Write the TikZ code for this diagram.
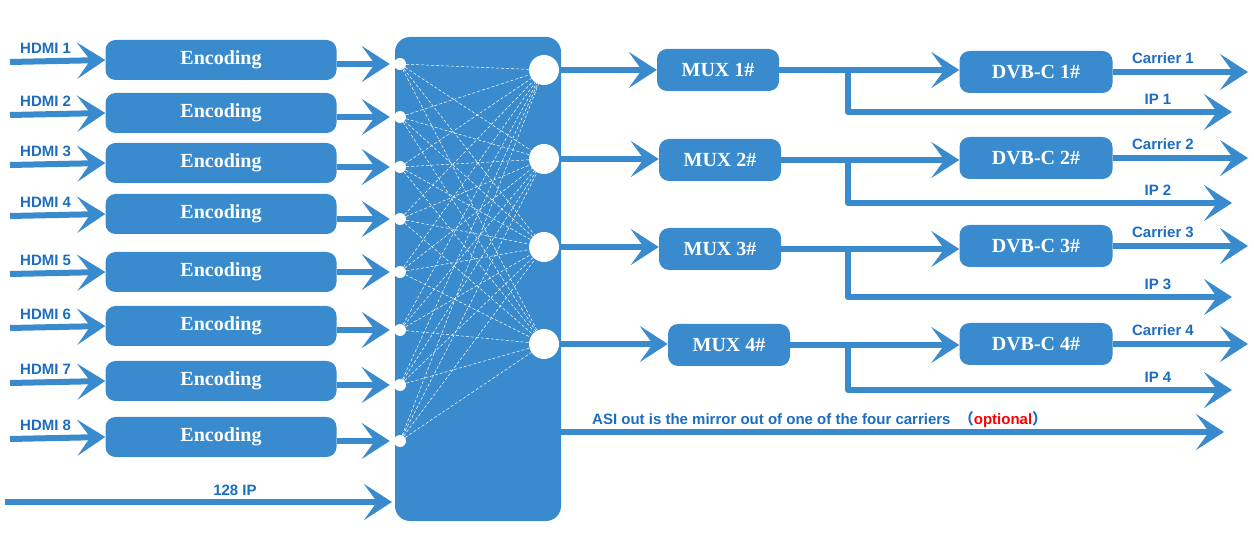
\documentclass[tikz,border=0pt]{standalone}
\usepackage{fontspec}
\setmainfont{Liberation Serif}
\newfontfamily\sansf{Liberation Sans}
\newfontfamily\cjk{Noto Sans CJK SC}
\usetikzlibrary{arrows.meta}
\definecolor{bb}{HTML}{3A8BCD}
\definecolor{tb}{HTML}{1C6DBF}
\begin{document}
\begin{tikzpicture}[x=1pt,y=-1pt,
 box/.style={draw=none,fill=bb,rounded corners=10pt,text=white,font=\bfseries\fontsize{20}{20}\selectfont,minimum height=40pt,inner sep=0pt},
 arr/.style={draw=bb,line width=6pt,-{Stealth[length=28pt,width=36pt,inset=13pt]}},
 ln/.style={draw=bb,line width=6pt},
 lab/.style={text=tb,font=\sansf\bfseries\fontsize{15}{15}\selectfont,inner sep=0pt},
 sc/.style={circle,fill=white,minimum size=12pt,inner sep=0pt},
 bc/.style={circle,fill=white,minimum size=30pt,inner sep=0pt}]
\useasboundingbox (0,0) rectangle (1254,545);
\node[fill=bb,rounded corners=15pt,minimum width=166pt,minimum height=484pt,inner sep=0pt] (blk) at (478,279) {};
\foreach \i/\y in {1/62,2/115,3/165,4/216,5/274,6/328,7/383,8/439}{
 \node[box,minimum width=231pt] (e\i) at (221,\y-2) {Encoding};
 \coordinate (h\i) at (10,\y);
 \draw[arr] (h\i) -- (e\i.west);
 \node[lab,anchor=west] at (20,\y-14) {HDMI \i};
}
\foreach \i/\y in {1/64,2/117,3/167,4/219,5/272,6/330,7/385,8/441}{
 \node[sc] (s\i) at (400,\y) {};
 \draw[arr,shorten >=4pt] (e\i.east|-s\i) -- (s\i);
}
\foreach \j/\y in {1/70,2/159,3/247,4/344}{ \node[bc] (b\j) at (544,\y) {}; }
\foreach \i in {1,...,8}{\foreach \j in {1,...,4}{
 \draw[white,densely dashed,line width=0.5pt] (s\i) -- (b\j);}}
\coordinate (ip) at (5,502);
\coordinate (ipe) at (392,502);
\draw[arr] (ip) -- (ipe);
\node[lab] at (235,490) {128 IP};
\foreach \j/\y/\mx/\dy/\ipy in {1/70/718/72/112,2/160/720/158/203,3/249/720/246/297,4/345/729/344/390}{
 \node[box,minimum width=122pt,minimum height=42pt] (m\j) at (\mx,\y) {MUX \j\#};
 \node[box,minimum width=153pt,minimum height=42pt] (d\j) at (1036,\dy) {DVB-C \j\#};
 \draw[arr] (blk.east|-b\j) -- (m\j.west|-b\j);
 \coordinate (k\j) at (848,\y);
 \coordinate (q\j) at (848,\ipy);
 \coordinate (r\j) at (1232,\ipy);
 \coordinate (c\j) at (1248,\dy);
 \draw[arr] (m\j.east) -- (d\j.west|-m\j.east);
 \draw[ln,line cap=round] (k\j) -- (q\j);
 \draw[arr] (q\j) -- (r\j);
 \draw[arr] (d\j.east) -- (c\j);
 \node[lab] at (1158,\ipy-13) {IP \j};
 \node[lab] at (1163,\dy-14) {Carrier \j};
}
\coordinate (a1) at (560,432);
\coordinate (a2) at (1224,432);
\draw[arr] (a1) -- (a2);
\node[lab,anchor=west] at (592,420) {ASI out is the mirror out of one of the four carriers\ \ {\cjk （}{\color{red}optional}{\cjk ）}};
\end{tikzpicture}
\end{document}
